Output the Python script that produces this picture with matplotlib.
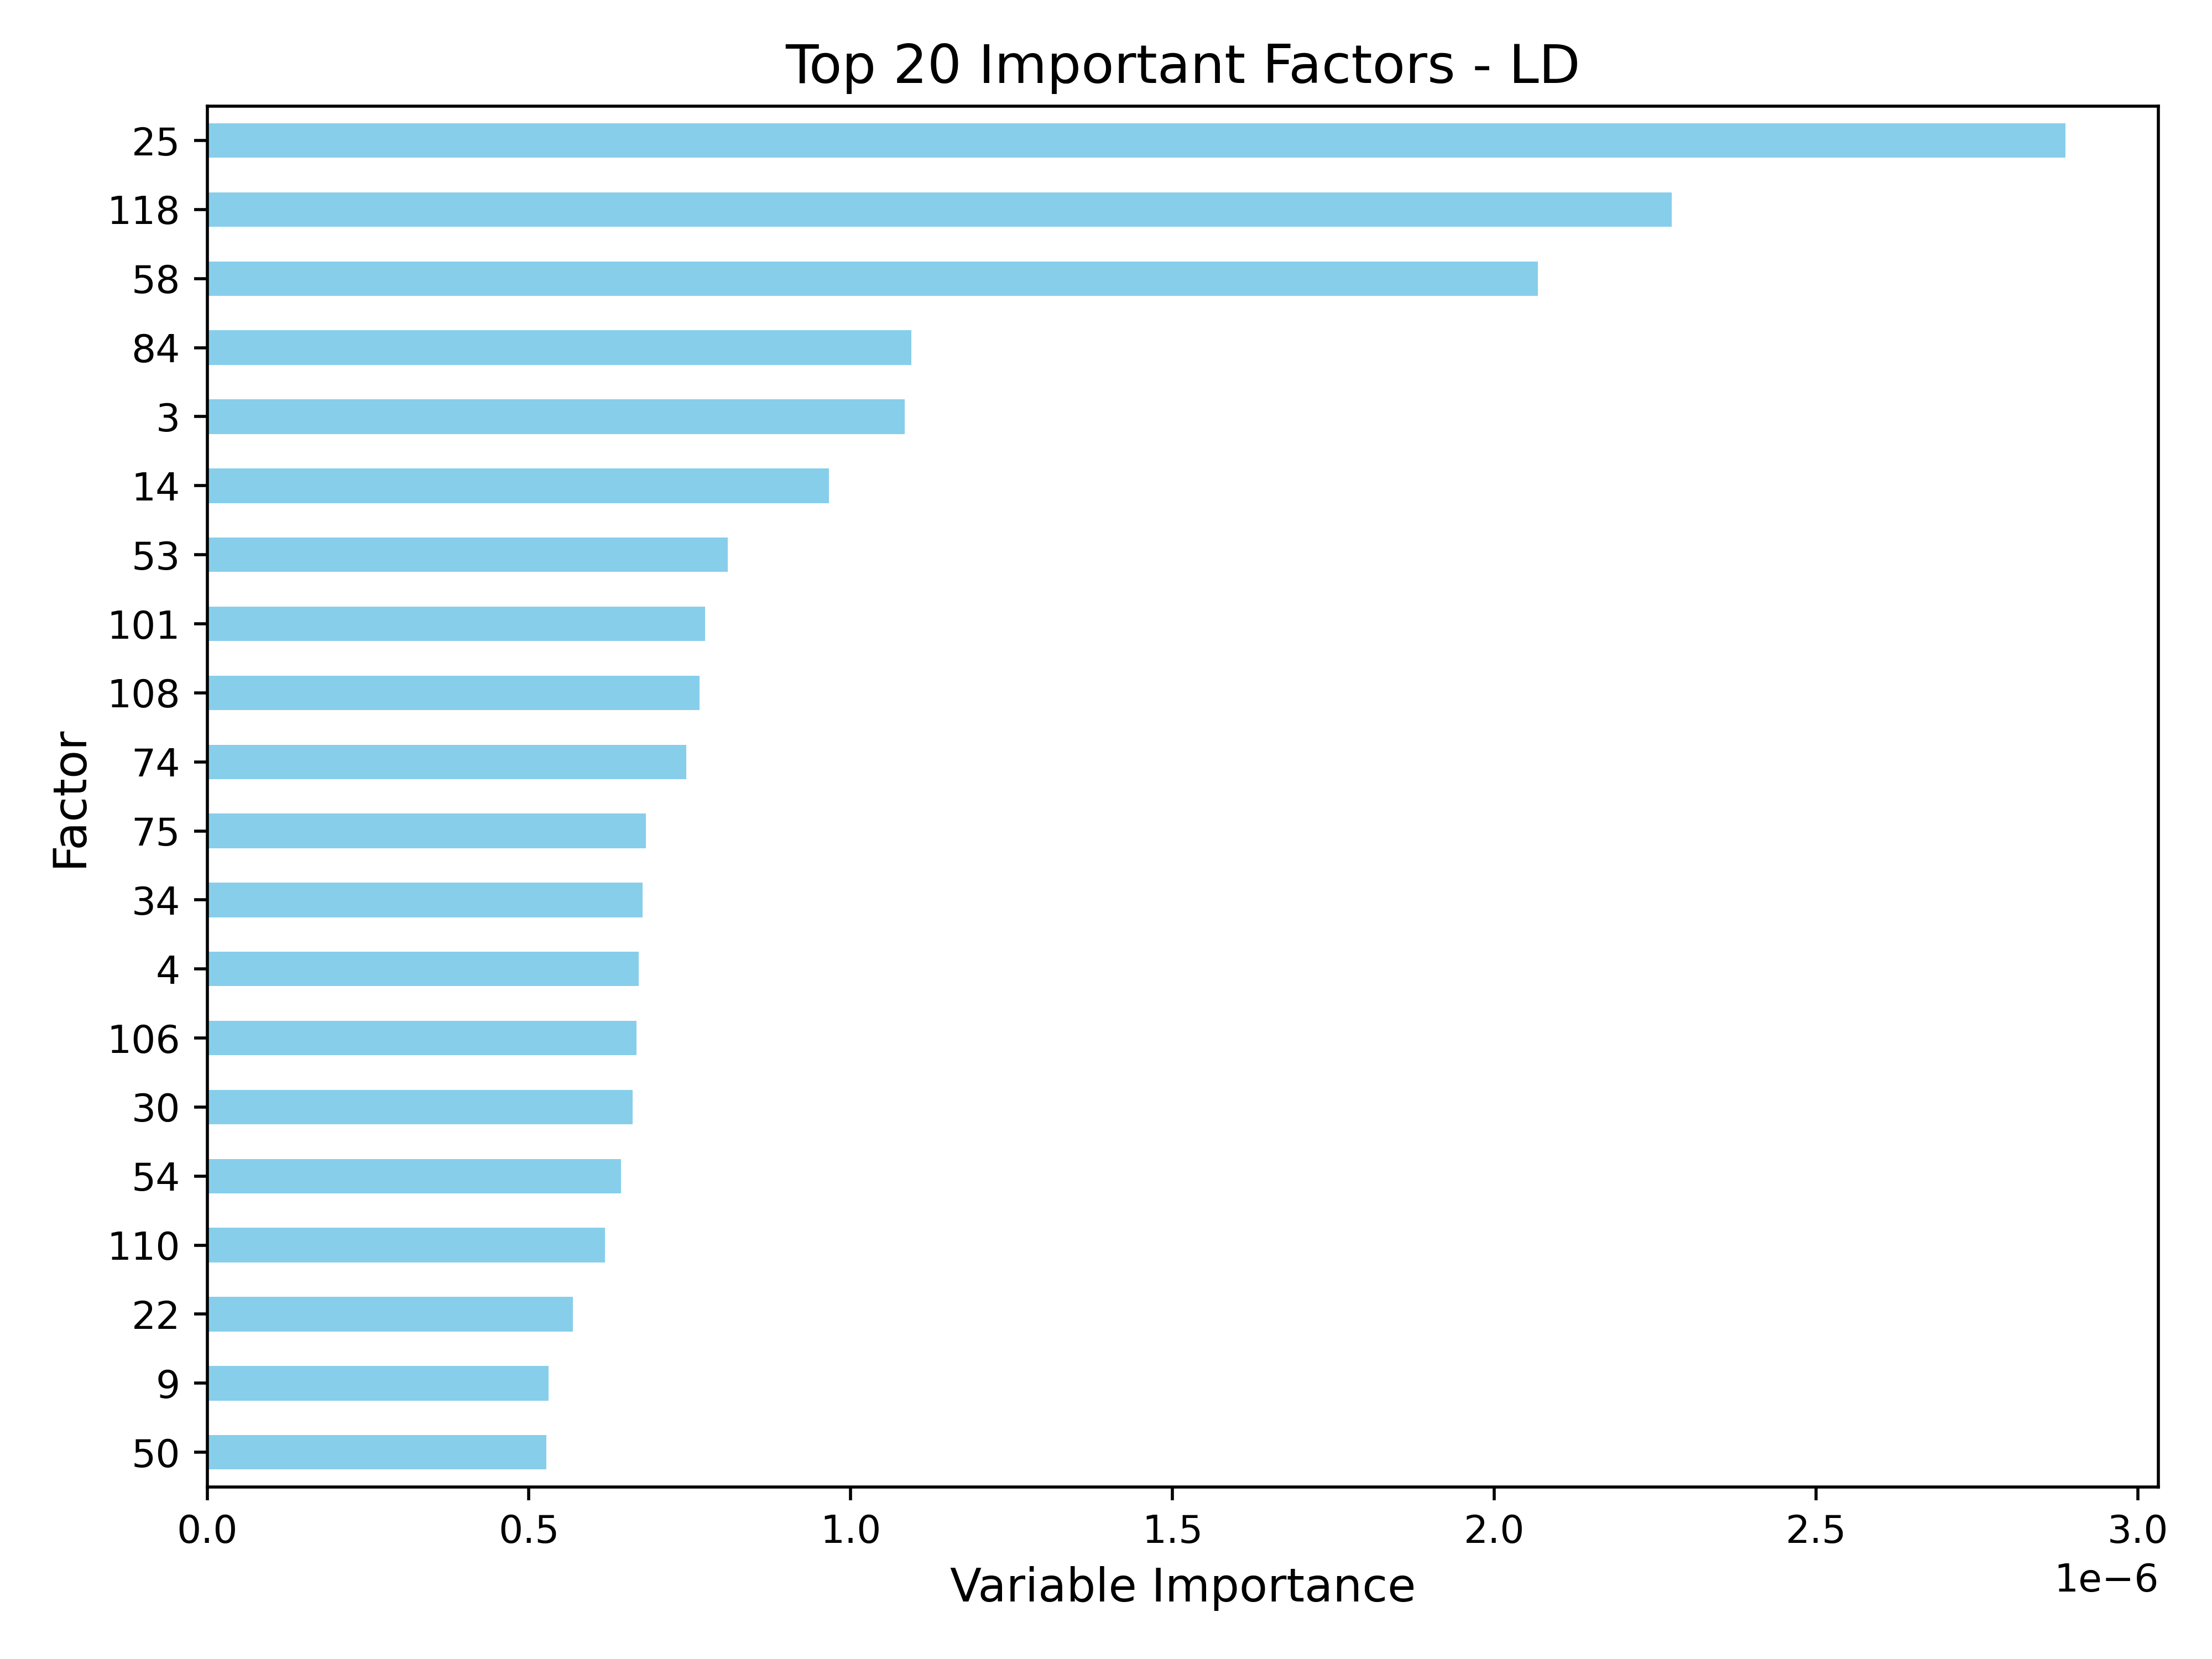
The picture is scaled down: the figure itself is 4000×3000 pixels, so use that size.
import matplotlib
matplotlib.use('Agg')
import matplotlib.pyplot as plt
import pandas as pd

# top 20 factors and their variable importance (LD model)
factors = ['25', '118', '58', '84', '3', '14', '53', '101', '108', '74',
           '75', '34', '4', '106', '30', '54', '110', '22', '9', '50']
importance = [2.888e-6, 2.276e-6, 2.068e-6, 1.094e-6, 1.084e-6, 0.966e-6,
              0.809e-6, 0.774e-6, 0.765e-6, 0.745e-6, 0.682e-6, 0.677e-6,
              0.671e-6, 0.667e-6, 0.661e-6, 0.643e-6, 0.618e-6, 0.568e-6,
              0.531e-6, 0.527e-6]

imp = pd.Series(importance, index=factors)

fig, ax = plt.subplots(figsize=(8, 6))
imp.sort_values().plot(kind='barh', color='skyblue', ax=ax)

ax.set_title('Top 20 Important Factors - LD', fontsize=14)
ax.set_xlabel('Variable Importance', fontsize=12)
ax.set_ylabel('Factor', fontsize=12)

plt.tight_layout()
fig.savefig('out.png', dpi=500)
